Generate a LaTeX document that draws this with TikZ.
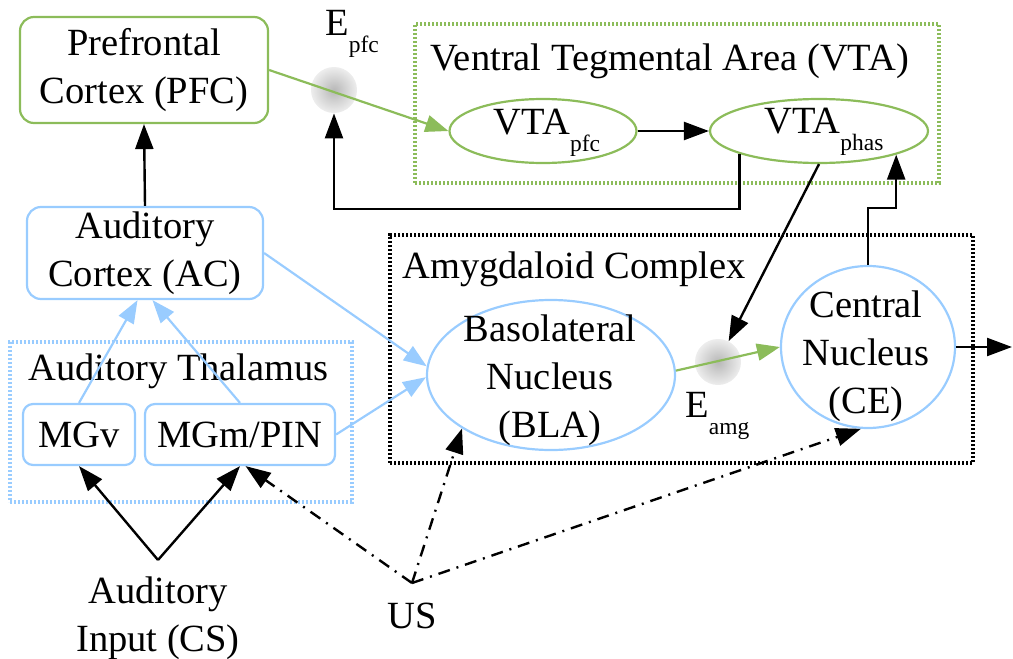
\documentclass[tikz,border=0pt]{standalone}
\usepackage{fontspec}
\setmainfont{Liberation Serif}
\usetikzlibrary{arrows.meta,shapes.geometric}
\definecolor{cgreen}{RGB}{140,188,90}
\definecolor{cblue}{RGB}{153,204,255}
\newcommand{\subtx}[1]{\lower8.5pt\hbox{\fontsize{11.75}{14}\selectfont #1}}
\tikzset{
  txt/.style={font=\fontsize{19.25}{24}\selectfont, inner sep=0pt, align=center},
  boxg/.style={txt, draw=cgreen, line width=1.1pt, rounded corners=7pt},
  boxb/.style={txt, draw=cblue, line width=1.1pt, rounded corners=7pt},
  grp/.style={line width=2.3pt, dash pattern=on 1.2pt off 0.8pt, inner sep=0pt, outer sep=0pt},
  ell/.style={ellipse, line width=1.1pt, inner sep=0pt},
  ball/.style={circle, minimum size=23pt, inner sep=0pt, shading=radial, inner color=black!28, outer color=black!7},
  tipk/.style={-{Triangle[length=12.5pt,width=9pt]}},
  karr/.style={tipk, line width=1.2pt, draw=black},
  barr/.style={-{Triangle[length=11.5pt,width=8.5pt]}, line width=1.1pt, draw=cblue, fill=cblue},
  garr/.style={-{Triangle[length=11.5pt,width=8.5pt]}, line width=1.1pt, draw=cgreen, fill=cgreen},
  darr/.style={tipk, line width=1.2pt, dash pattern=on 6pt off 3.5pt on 1pt off 3.5pt}
}
\begin{document}
\begin{tikzpicture}[x=0.5pt,y=-0.5pt]
\useasboundingbox (0,0) rectangle (1013,659);

% group frames
\node[grp, draw=cgreen, minimum width=262pt, minimum height=79.5pt] (vtagrp) at (677,103.5) {};
\node[txt, anchor=base west] (vtatitle) at (430,70) {Ventral Tegmental Area (VTA)};
\node[grp, draw=black, minimum width=291.5pt, minimum height=114pt] (amygrp) at (681.5,349) {};
\node[txt, anchor=base west] (amytitle) at (402,278) {Amygdaloid Complex};
\node[grp, draw=cblue, minimum width=171pt, minimum height=80pt] (thalgrp) at (181,422) {};
\node[txt, anchor=base west] (thaltitle) at (28,380) {Auditory Thalamus};

% boxes
\node[boxg, minimum width=124pt, minimum height=53pt] (pfc) at (144,70) {Prefrontal\\Cortex (PFC)};
\node[boxb, minimum width=118pt, minimum height=46pt] (ac) at (145,253) {Auditory\\Cortex (AC)};
\node[boxb, rounded corners=5pt, minimum width=56pt, minimum height=30.5pt] (mgv) at (79,434.5) {MGv};
\node[boxb, rounded corners=5pt, minimum width=95pt, minimum height=30.5pt] (mgm) at (240,434.5) {MGm/PIN};

% ellipses
\node[ell, draw=cgreen, minimum width=93.5pt, minimum height=32pt] (vtapfc) at (543,131) {};
\node[txt] (vtapfctxt) at (547,133) {VTA\subtx{pfc}};
\node[ell, draw=cgreen, minimum width=109pt, minimum height=32pt] (vtaphas) at (819,131) {};
\node[txt] (vtaphastxt) at (824,132) {VTA\subtx{phas}};
\node[ell, draw=cblue, minimum width=124pt, minimum height=75pt] (bla) at (551,375) {};
\node[txt] (blatxt) at (550,380) {Basolateral\\Nucleus\\(BLA)};
\node[ell, draw=cblue, minimum width=87pt, minimum height=81pt] (ce) at (868,347) {};
\node[txt] (cetxt) at (866,356) {Central\\Nucleus\\(CE)};

% eligibility balls
\node[ball] (epfc) at (334,90) {};
\node[txt, anchor=base west] (epfclbl) at (325,35) {E\subtx{pfc}};
\node[ball] (eamg) at (718,362) {};
\node[txt, anchor=base west] (eamglbl) at (685,417) {E\subtx{amg}};

% inputs
\node[txt] (cs) at (158,618) {Auditory\\Input (CS)};
\coordinate (csfork) at (158,560);
\node[txt, anchor=base] (us) at (412,628) {US};
\coordinate (usfork) at (412,583);
\coordinate (out) at (1012,347);

% connectors
\draw[garr] (pfc.east) -- (vtapfc.west);
\draw[karr] (ac.north) -- (pfc.south);
\draw[karr] (vtapfc.east) -- (vtaphas.west);
\draw[karr] (vtaphas.196) -- ++(0,55) -| (epfc.south);
\draw[karr] (vtaphas.south) -- (eamg);
\draw[karr] (ce.north) -- ++(0,-57) -| (vtaphas.343);
\draw[karr] (ce.east) -- (out);
\draw[barr] (mgv.north) -- (ac.261);
\draw[barr] (mgm.north) -- (ac.279);
\draw[barr] (ac.east) -- (bla.176);
\draw[barr] (mgm.east) -- (bla.181);
\draw[garr] (bla.2) -- (ce.180);
\draw[karr] (csfork) -- (mgv.south);
\draw[karr] (csfork) -- (mgm.south);
\draw[darr] (usfork) -- (mgm.280);
\draw[darr] (usfork) -- (bla.211);
\draw[darr] (usfork) -- (ce.265);
\end{tikzpicture}
\end{document}
